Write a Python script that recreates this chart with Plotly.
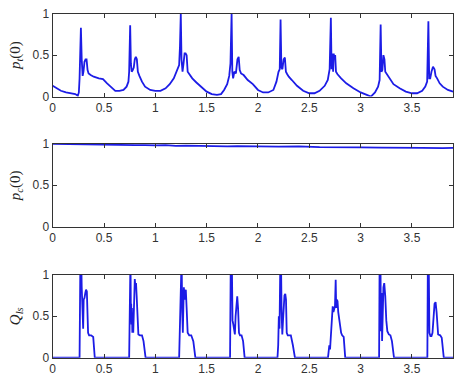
import plotly.graph_objects as go

# ---- data: p_t(0) ----
t_pt = [0, 0.03, 0.08, 0.13, 0.18, 0.22, 0.245,
        0.255, 0.262, 0.268, 0.275, 0.283, 0.292, 0.30, 0.31, 0.32, 0.33, 0.34, 0.35, 0.37, 0.40, 0.45, 0.49, 0.53, 0.57, 0.61, 0.65, 0.69, 0.72, 0.738,
        0.745, 0.75, 0.755, 0.762, 0.77, 0.78, 0.79, 0.80, 0.81, 0.82, 0.83, 0.845, 0.87, 0.9, 0.95, 1.0, 1.05, 1.1, 1.14, 1.18, 1.21, 1.232,
        1.24, 1.248, 1.255, 1.265, 1.275, 1.285, 1.295, 1.305, 1.315, 1.33, 1.36, 1.4, 1.45, 1.5, 1.55, 1.6, 1.64, 1.67, 1.7, 1.72, 1.732,
        1.738, 1.743, 1.75, 1.758, 1.77, 1.785, 1.8, 1.812, 1.822, 1.835, 1.86, 1.9, 1.95, 2.0, 2.05, 2.1, 2.15, 2.18, 2.2, 2.212,
        2.22, 2.228, 2.238, 2.25, 2.262, 2.272, 2.285, 2.3, 2.33, 2.38, 2.44, 2.5, 2.55, 2.6, 2.65, 2.68, 2.698,
        2.71, 2.717, 2.725, 2.732, 2.738, 2.745, 2.752, 2.76, 2.775, 2.81, 2.86, 2.93, 3.0, 3.06, 3.1, 3.14, 3.17, 3.185,
        3.195, 3.203, 3.212, 3.222, 3.232, 3.24, 3.25, 3.262, 3.28, 3.32, 3.38, 3.44, 3.5, 3.55, 3.6, 3.63, 3.648,
        3.66, 3.668, 3.678, 3.69, 3.705, 3.72, 3.73, 3.745, 3.77, 3.8, 3.85, 3.9]
p_t = [0.13, 0.11, 0.07, 0.05, 0.04, 0.03, 0.01,
       0.05, 0.22, 0.45, 0.83, 0.45, 0.25, 0.30, 0.42, 0.45, 0.45, 0.32, 0.28, 0.26, 0.24, 0.22, 0.21, 0.16, 0.11, 0.07, 0.07, 0.08, 0.12, 0.18,
       0.3, 0.55, 0.86, 0.4, 0.3, 0.32, 0.35, 0.45, 0.48, 0.45, 0.3, 0.25, 0.18, 0.12, 0.08, 0.07, 0.07, 0.1, 0.15, 0.22, 0.3, 0.38,
       0.6, 1.0, 0.45, 0.3, 0.4, 0.52, 0.52, 0.5, 0.3, 0.27, 0.22, 0.17, 0.12, 0.06, 0.03, 0.02, 0.03, 0.08, 0.15, 0.25, 0.4,
       0.85, 1.0, 0.3, 0.22, 0.3, 0.28, 0.45, 0.48, 0.32, 0.28, 0.26, 0.2, 0.15, 0.08, 0.05, 0.05, 0.08, 0.18, 0.3, 0.33,
       0.93, 0.35, 0.33, 0.45, 0.47, 0.3, 0.27, 0.24, 0.2, 0.13, 0.07, 0.04, 0.04, 0.07, 0.13, 0.2, 0.33,
       0.95, 0.33, 0.52, 0.3, 0.52, 0.45, 0.5, 0.3, 0.27, 0.22, 0.16, 0.1, 0.05, 0.02, 0.0, 0.05, 0.12, 0.2,
       0.87, 0.3, 0.32, 0.5, 0.45, 0.3, 0.28, 0.27, 0.22, 0.15, 0.1, 0.06, 0.04, 0.04, 0.07, 0.12, 0.18,
       0.91, 0.22, 0.22, 0.3, 0.36, 0.33, 0.25, 0.22, 0.16, 0.12, 0.08, 0.06]

# ---- data: p_c(0) ----
t_pc = [0, 0.2, 0.4, 0.6, 0.7, 0.8, 0.9, 1.0, 1.1, 1.2, 1.3, 1.4, 1.5, 1.6, 1.7, 1.8, 1.9, 2.0,
        2.2, 2.4, 2.6, 2.8, 3.0, 3.2, 3.4, 3.6, 3.8, 3.9]
p_c = [1.0, 0.995, 0.99, 0.99, 0.98, 0.985, 0.985, 0.98, 0.985, 0.975, 0.978, 0.975, 0.97, 0.975,
       0.968, 0.972, 0.975, 0.97, 0.965, 0.968, 0.96, 0.963, 0.958, 0.955, 0.958, 0.952, 0.948, 0.95]

# ---- data: Q_ls ----
t_q = [0, 0.262,
       0.27, 0.278, 0.283, 0.288, 0.292, 0.297, 0.302, 0.31, 0.318, 0.325, 0.333, 0.34, 0.345, 0.355, 0.375, 0.395, 0.41,
       0.745, 0.752, 0.758, 0.762, 0.765, 0.768, 0.772, 0.776, 0.78, 0.785, 0.79, 0.795, 0.80, 0.806, 0.812, 0.818, 0.825, 0.835, 0.85, 0.87, 0.885, 0.905,
       1.232, 1.238, 1.245, 1.25, 1.256, 1.262, 1.268, 1.273, 1.278, 1.284, 1.29, 1.297, 1.305, 1.315, 1.33, 1.35, 1.37, 1.39,
       1.728, 1.735, 1.745, 1.752, 1.76, 1.768, 1.775, 1.782, 1.79, 1.798, 1.806, 1.815, 1.825, 1.84, 1.855, 1.87,
       2.19, 2.197, 2.203, 2.21, 2.218, 2.224, 2.23, 2.237, 2.244, 2.25, 2.258, 2.266, 2.273, 2.28, 2.29, 2.305, 2.32, 2.34, 2.36,
       2.682, 2.688, 2.695, 2.702, 2.712, 2.722, 2.728, 2.735, 2.742, 2.75, 2.757, 2.762, 2.768, 2.775, 2.782, 2.795, 2.81, 2.82, 2.835, 2.85,
       3.18, 3.185, 3.193, 3.198, 3.204, 3.209, 3.215, 3.222, 3.23, 3.24, 3.25, 3.26, 3.275, 3.29, 3.305, 3.325,
       3.65, 3.655, 3.663, 3.67, 3.68, 3.69, 3.7, 3.71, 3.72, 3.73, 3.74, 3.755, 3.775, 3.79, 3.81, 3.9]
q_ls = [0, 0,
        1.2, 1.2, 0.85, 0.6, 0.4, 0.35, 0.7, 0.72, 0.78, 0.82, 0.8, 0.6, 0.3, 0.27, 0.27, 0.25, 0,
        0, 1.2, 1.2, 0.5, 0.65, 0.4, 0.6, 0.3, 0.5, 0.3, 0.55, 0.8, 0.95, 0.85, 0.9, 0.75, 0.5, 0.28, 0.27, 0.27, 0.2, 0,
        0, 0.3, 0.35, 0.6, 1.2, 0.55, 0.3, 0.6, 0.85, 0.7, 0.8, 0.82, 0.6, 0.3, 0.27, 0.27, 0.2, 0,
        0, 1.2, 1.2, 0.45, 0.4, 0.35, 0.28, 0.5, 0.72, 0.74, 0.6, 0.3, 0.27, 0.27, 0.2, 0,
        0, 0.15, 0.5, 0.35, 1.2, 1.2, 0.55, 0.28, 0.45, 0.7, 0.75, 0.77, 0.7, 0.3, 0.27, 0.27, 0.27, 0.15, 0,
        0, 0.12, 0.15, 0.1, 0.3, 0.55, 0.62, 0.55, 0.6, 0.62, 0.94, 0.6, 0.7, 0.68, 0.55, 0.4, 0.3, 0.27, 0.25, 0,
        0, 1.2, 1.2, 0.32, 0.78, 0.2, 0.7, 0.85, 0.9, 0.74, 0.45, 0.32, 0.28, 0.27, 0.2, 0,
        0, 1.2, 1.2, 0.3, 0.26, 0.26, 0.3, 0.5, 0.65, 0.67, 0.55, 0.28, 0.27, 0.24, 0, 0]

x_ticks = [0, 0.5, 1, 1.5, 2, 2.5, 3, 3.5]
x_tick_text = ["0", "0.5", "1", "1.5", "2", "2.5", "3", "3.5"]
y_ticks = [0, 0.5, 1]
y_tick_text = ["0", "0.5", "1"]
titles = ["<i>p<sub>t</sub></i>(0)", "<i>p<sub>c</sub></i>(0)", "<i>Q<sub>ls</sub></i>"]

W, H = 456, 382
LINE = "rgb(28,28,230)"
panels = [(t_pt, p_t, 7, 93), (t_pc, p_c, 142, 228), (t_q, q_ls, 278, 364)]

fig = go.Figure()
for i, (tx, yv, top, bot) in enumerate(panels):
    n = "" if i == 0 else str(i + 1)
    fig.add_trace(go.Scatter(x=tx, y=yv, mode="lines", line=dict(color=LINE, width=1.8),
                             xaxis="x" + n, yaxis="y" + n, showlegend=False, cliponaxis=True))
    dom_y = [1 - bot / H, 1 - top / H]
    axcommon = dict(showline=True, linecolor="#333", linewidth=1, mirror="ticks", ticks="inside",
                    ticklen=4, tickcolor="#333", showgrid=False, zeroline=False,
                    tickfont=dict(family="Liberation Sans, Arial", size=12, color="#333"))
    fig.update_layout(**{
        "xaxis" + n: dict(domain=[50 / W, 453 / W], range=[0, 3.9], tickvals=x_ticks,
                          ticktext=x_tick_text, anchor="y" + n, **axcommon),
        "yaxis" + n: dict(domain=dom_y, range=[0, 1], tickvals=y_ticks, ticktext=y_tick_text,
                          anchor="x" + n, **axcommon),
    })
    fig.add_annotation(x=13 / W, y=(dom_y[0] + dom_y[1]) / 2, xref="paper", yref="paper",
                       xanchor="center", yanchor="middle",
                       text=titles[i], textangle=-90, showarrow=False,
                       font=dict(family="Liberation Serif, serif", size=15, color="#222"))

fig.update_layout(width=W, height=H, margin=dict(l=0, r=0, t=0, b=0),
                  paper_bgcolor="white", plot_bgcolor="white")
fig.write_html("out.html")
